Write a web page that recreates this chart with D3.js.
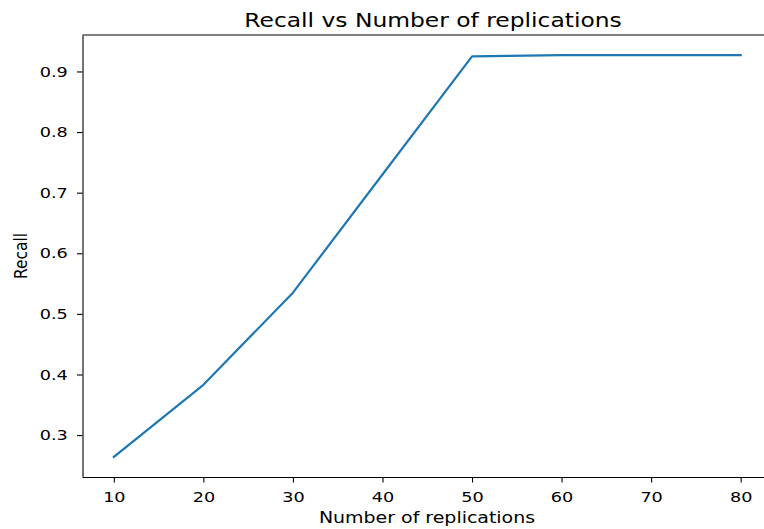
<!DOCTYPE html>
<html>
<head>
<meta charset="utf-8">
<script src="https://cdn.jsdelivr.net/npm/d3@7"></script>
<style>
  body { margin: 0; background: #fff; }
  svg { font-family: "DejaVu Sans", sans-serif; }
  .axis path, .axis line { stroke: #000; stroke-width: 1.1; }
  .axis text { font-size: 14.7px; fill: #000; font-family: "DejaVu Sans", sans-serif; }
</style>
</head>
<body>
<div id="chart"></div>
<script>
// replications vs recall
var replications = [10, 20, 30, 40, 50, 60, 70, 80];
var recall = [0.264, 0.383, 0.535, 0.73, 0.925, 0.927, 0.927, 0.927];
var xTicks = [10, 20, 30, 40, 50, 60, 70, 80];
var yTicks = [0.3, 0.4, 0.5, 0.6, 0.7, 0.8, 0.9];

var width = 764, height = 529;
var margin = { top: 35, right: -8, bottom: 52, left: 82.5 };
var chartWidth = width - margin.left - margin.right;
var chartHeight = height - margin.top - margin.bottom;

// the picture is a bit wider than tall, text is stretched sideways
var stretch = 1.2;

var svg = d3
  .select("#chart")
  .append("svg")
  .attr("width", width)
  .attr("height", height);

var g = svg
  .append("g")
  .attr("transform", "translate(" + margin.left + "," + margin.top + ")");

// matplotlib style 5% margins
var xPad = (d3.max(replications) - d3.min(replications)) * 0.05;
var yPad = (d3.max(recall) - d3.min(recall)) * 0.05;

var xScale = d3
  .scaleLinear()
  .domain([d3.min(replications) - xPad, d3.max(replications) + xPad])
  .range([0, chartWidth]);

var yScale = d3
  .scaleLinear()
  .domain([d3.min(recall) - yPad, d3.max(recall) + yPad])
  .range([chartHeight, 0]);

var xAxis = d3
  .axisBottom(xScale)
  .tickValues(xTicks)
  .tickSize(5.5)
  .tickPadding(8.7)
  .tickSizeOuter(0);

var yAxis = d3
  .axisLeft(yScale)
  .tickValues(yTicks)
  .tickFormat(d3.format(".1f"))
  .tickSize(5.5)
  .tickPadding(9.3)
  .tickSizeOuter(0);

var xg = g.append("g")
  .attr("class", "axis x-axis")
  .attr("transform", "translate(0," + chartHeight + ")")
  .call(xAxis);

xg.selectAll(".tick text")
  .attr("transform", "scale(" + stretch + ",1)");

var yg = g.append("g")
  .attr("class", "axis y-axis")
  .call(yAxis);

yg.selectAll(".tick text")
  .attr("transform", "translate(-14.8,0) scale(" + stretch + ",1)")
  .attr("x", 0);

// top and right spines
g.append("line")
  .attr("x1", 0).attr("x2", chartWidth)
  .attr("y1", 0).attr("y2", 0)
  .attr("stroke", "#000").attr("stroke-width", 1.1);
g.append("line")
  .attr("x1", chartWidth).attr("x2", chartWidth)
  .attr("y1", 0).attr("y2", chartHeight)
  .attr("stroke", "#000").attr("stroke-width", 1.1);

var line = d3
  .line()
  .x(function(d, i) { return xScale(replications[i]); })
  .y(function(d) { return yScale(d); });

g.append("path")
  .datum(recall)
  .attr("d", line)
  .attr("fill", "none")
  .attr("stroke", "#1f77b4")
  .attr("stroke-width", 2.2)
  .attr("stroke-linejoin", "round")
  .attr("stroke-linecap", "square");

// title & labels
svg.append("text")
  .text("Recall vs Number of replications")
  .attr("transform", "translate(433,26.5) scale(" + stretch + ",1)")
  .attr("text-anchor", "middle")
  .style("font-size", "19.5px");

svg.append("text")
  .text("Number of replications")
  .attr("transform", "translate(427,523) scale(" + stretch + ",1)")
  .attr("text-anchor", "middle")
  .style("font-size", "15.8px");

svg.append("text")
  .text("Recall")
  .attr("transform", "translate(26.5," + (margin.top + chartHeight / 2) + ") rotate(-90) scale(1," + stretch + ")")
  .attr("text-anchor", "middle")
  .style("font-size", "15.4px");
</script>
</body>
</html>
